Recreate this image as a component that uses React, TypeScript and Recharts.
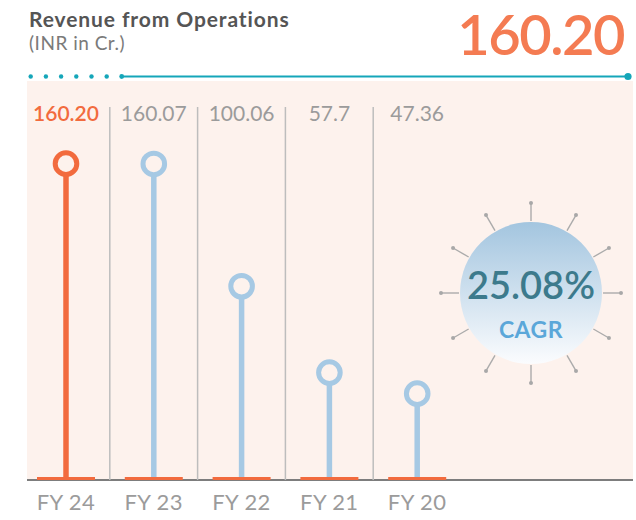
import { ComposedChart, Bar, XAxis, YAxis, ReferenceLine, LabelList } from "recharts";

const categories = ["FY 24", "FY 23", "FY 22", "FY 21", "FY 20"];
const revenue = [160.2, 160.07, 100.06, 57.7, 47.36];
const revenueLabels = ["160.20", "160.07", "100.06", "57.7", "47.36"];
const headline = "160.20";
const cagrValue = "25.08%";

const data = categories.map((fy, i) => ({ fy, revenue: revenue[i], label: revenueLabels[i] }));

const ORANGE = "#f26b3e";
const BLUE = "#a6c9e4";
const PANEL = "#fdf2ed";
const TEAL = "#15a6b9";
const GREY = "#9b9b9b";
const FONT = "Lato, 'Open Sans', sans-serif";

// stem + ring on top, short orange foot on the baseline
function Lollipop(props: any) {
  const { x, y, width, height, index } = props;
  const cx = x + width / 2;
  const base = y + height;
  const color = index === 0 ? ORANGE : BLUE;
  return (
    <g>
      <line x1={cx} x2={cx} y1={base - 2} y2={y + 10} stroke={color} strokeWidth={5.5} />
      <circle cx={cx} cy={y} r={10.8} fill={PANEL} stroke={color} strokeWidth={5} />
      <line x1={cx - 29} x2={cx + 29} y1={base - 1.5} y2={base - 1.5} stroke={ORANGE} strokeWidth={3} />
    </g>
  );
}

function ValueLabel(props: any) {
  const { x, width, index, value } = props;
  const first = index === 0;
  return (
    <text
      x={x + width / 2}
      y={121}
      textAnchor="middle"
      fontSize={21}
      fontFamily={FONT}
      fontWeight={first ? 600 : 400}
      fill={first ? ORANGE : GREY}
    >
      {value}
    </text>
  );
}

function CagrBadge() {
  const cx = 531;
  const cy = 293;
  const angles = Array.from({ length: 12 }, (_, i) => (i * Math.PI) / 6);
  return (
    <svg width={636} height={520} style={{ position: "absolute", left: 0, top: 0, pointerEvents: "none" }}>
      <defs>
        <linearGradient id="cagrFill" x1="0" y1="0" x2="0" y2="1">
          <stop offset="0%" stopColor="#a3c5df" />
          <stop offset="100%" stopColor="#fbfcfe" />
        </linearGradient>
      </defs>
      {/* dotted + solid rule under the heading */}
      {Array.from({ length: 6 }, (_, i) => (
        <circle key={i} cx={30.7 + i * 15.2} cy={76.5} r={2.2} fill={TEAL} />
      ))}
      <line x1={121.7} x2={628} y1={76.5} y2={76.5} stroke={TEAL} strokeWidth={1.8} />
      <circle cx={121.7} cy={76.5} r={2.4} fill={TEAL} />
      <circle cx={628} cy={76.5} r={3.6} fill={TEAL} />

      {angles.map((a, i) => {
        const x1 = cx + Math.sin(a) * 72;
        const y1 = cy - Math.cos(a) * 72;
        const x2 = cx + Math.sin(a) * 90;
        const y2 = cy - Math.cos(a) * 90;
        return (
          <g key={i}>
            <line x1={x1} y1={y1} x2={x2} y2={y2} stroke="#ababab" strokeWidth={1.4} />
            <circle cx={x2} cy={y2} r={2} fill="#a8a8a8" />
          </g>
        );
      })}
      <circle cx={cx} cy={cy} r={71} fill="url(#cagrFill)" />
      <text x={cx} y={299} textAnchor="middle" fontFamily={FONT} fontSize={38} fontWeight={600} fill="#3c7a8c">
        {cagrValue}
      </text>
      <text x={cx} y={338} textAnchor="middle" fontFamily={FONT} fontSize={23} fontWeight={700} fill="#5ba7d9" letterSpacing={0.5}>
        CAGR
      </text>
    </svg>
  );
}

export default function App() {
  return (
    <div style={{ position: "absolute", left: 0, top: 0, width: 636, height: 520, background: "#fff", fontFamily: FONT, overflow: "hidden" }}>
      <div
        style={{
          position: "absolute",
          left: 27,
          top: 81,
          width: 606,
          height: 398,
          background: PANEL,
          borderBottom: "2px solid #7d7d7d",
        }}
      />
      <div
        style={{
          position: "absolute",
          left: 29,
          top: 7,
          fontSize: 21,
          fontWeight: 700,
          letterSpacing: 0.9,
          color: "#555",
          lineHeight: "24px",
          whiteSpace: "nowrap",
        }}
      >
        Revenue from Operations
      </div>
      <div
        style={{
          position: "absolute",
          left: 29,
          top: 32,
          fontSize: 19,
          letterSpacing: 0.5,
          color: "#7a7a7a",
          lineHeight: "22px",
          whiteSpace: "nowrap",
        }}
      >
        (INR in Cr.)
      </div>
      <div
        style={{
          position: "absolute",
          right: 12,
          top: 0,
          fontSize: 56,
          fontWeight: 600,
          letterSpacing: -1.5,
          color: "#f47b52",
          lineHeight: "68px",
          whiteSpace: "nowrap",
        }}
      >
        {headline}
      </div>

      <div style={{ position: "absolute", left: 0, top: 0 }}>
        <ComposedChart width={636} height={520} data={data} margin={{ top: 107, right: 175, bottom: 10, left: 22 }}>
          <YAxis hide domain={[5, 188]} />
          <XAxis
            dataKey="fy"
            axisLine={false}
            tickLine={false}
            interval={0}
            height={30}
            tickMargin={8}
            tick={{ fill: GREY, fontSize: 22, fontFamily: FONT, letterSpacing: 0.4 }}
          />
          {categories.slice(1).map((c) => (
            <ReferenceLine key={c} x={c} position="start" stroke="#bdbdbd" strokeWidth={1.5} />
          ))}
          <Bar
            dataKey="revenue"
            barSize={20}
            isAnimationActive={false}
            shape={(p: any) => <Lollipop {...p} />}
          >
            <LabelList dataKey="label" content={(p: any) => <ValueLabel {...p} />} />
          </Bar>
        </ComposedChart>
      </div>

      <CagrBadge />
    </div>
  );
}
